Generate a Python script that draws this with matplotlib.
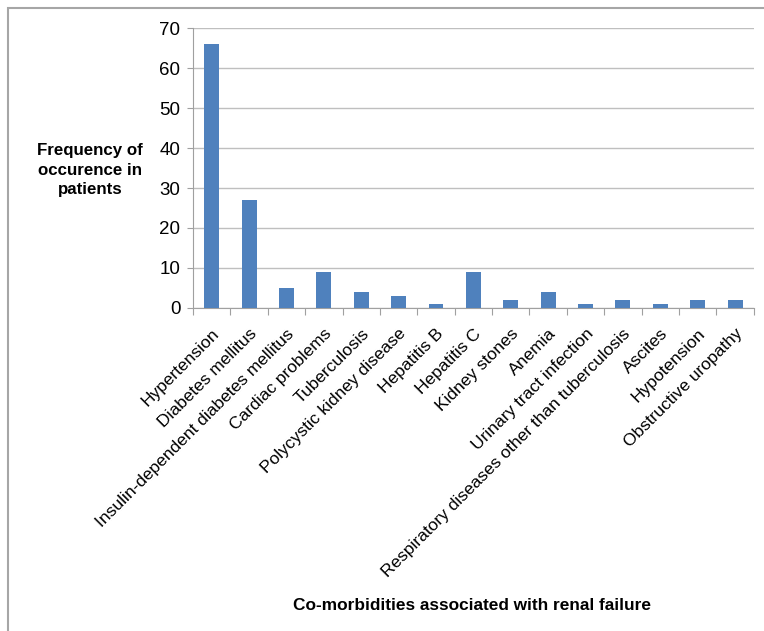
import matplotlib.pyplot as plt
from matplotlib.patches import Rectangle
import numpy as np

plt.rcParams['font.family'] = ['Liberation Sans', 'DejaVu Sans']

categories = ['Hypertension', 'Diabetes mellitus', 'Insulin-dependent diabetes mellitus',
              'Cardiac problems', 'Tuberculosis', 'Polycystic kidney disease',
              'Hepatitis B', 'Hepatitis C', 'Kidney stones', 'Anemia',
              'Urinary tract infection', 'Respiratory diseases other than tuberculosis',
              'Ascites', 'Hypotension', 'Obstructive uropathy']
values = [66, 27, 5, 9, 4, 3, 1, 9, 2, 4, 1, 2, 1, 2, 2]

fig = plt.figure(figsize=(7.64, 6.31), dpi=100)
ax = fig.add_axes([0.2526, 0.5119, 0.734, 0.4437])

X = np.arange(len(categories))
ax.bar(X, values, width=0.4, color='#4F81BD', zorder=3)

ax.set_xlim(-0.5, len(categories) - 0.5)
ax.set_ylim(0, 70)
ax.set_yticks(range(0, 71, 10))
ax.yaxis.grid(True, color='#BFBFBF', linewidth=1)
ax.set_axisbelow(True)

for s in ['top', 'right']:
    ax.spines[s].set_visible(False)
ax.spines['left'].set_color('#A0A0A0')
ax.spines['bottom'].set_color('#A0A0A0')
ax.tick_params(axis='y', length=4, color='#A0A0A0', labelsize=13.5, pad=5)

# ticks at category boundaries, labels at centers
ax.set_xticks(np.arange(len(categories) + 1) - 0.5)
ax.set_xticklabels([])
ax.tick_params(axis='x', which='major', length=5, color='#A0A0A0', direction='out')
ax.set_xticks(X, minor=True)
ax.set_xticklabels(categories, minor=True, rotation=45, ha='right',
                   rotation_mode='anchor', fontsize=12.5)
ax.tick_params(axis='x', which='minor', length=0, pad=13)

fig.text(0.118, 0.73, 'Frequency of\noccurence in\npatients', ha='center', va='center',
         fontsize=12.2, fontweight='bold', linespacing=1.38)
fig.text(0.618, 0.041, 'Co-morbidities associated with renal failure', ha='center',
         va='center', fontsize=12.4, fontweight='bold')

# outer frame (open on the right, as in the source)
fig.patches.append(Rectangle((0.011, -0.01), 1.0, 0.997, transform=fig.transFigure,
                             fill=False, edgecolor='#A6A6A6', linewidth=1.5))

fig.savefig('out.png', dpi=100)
